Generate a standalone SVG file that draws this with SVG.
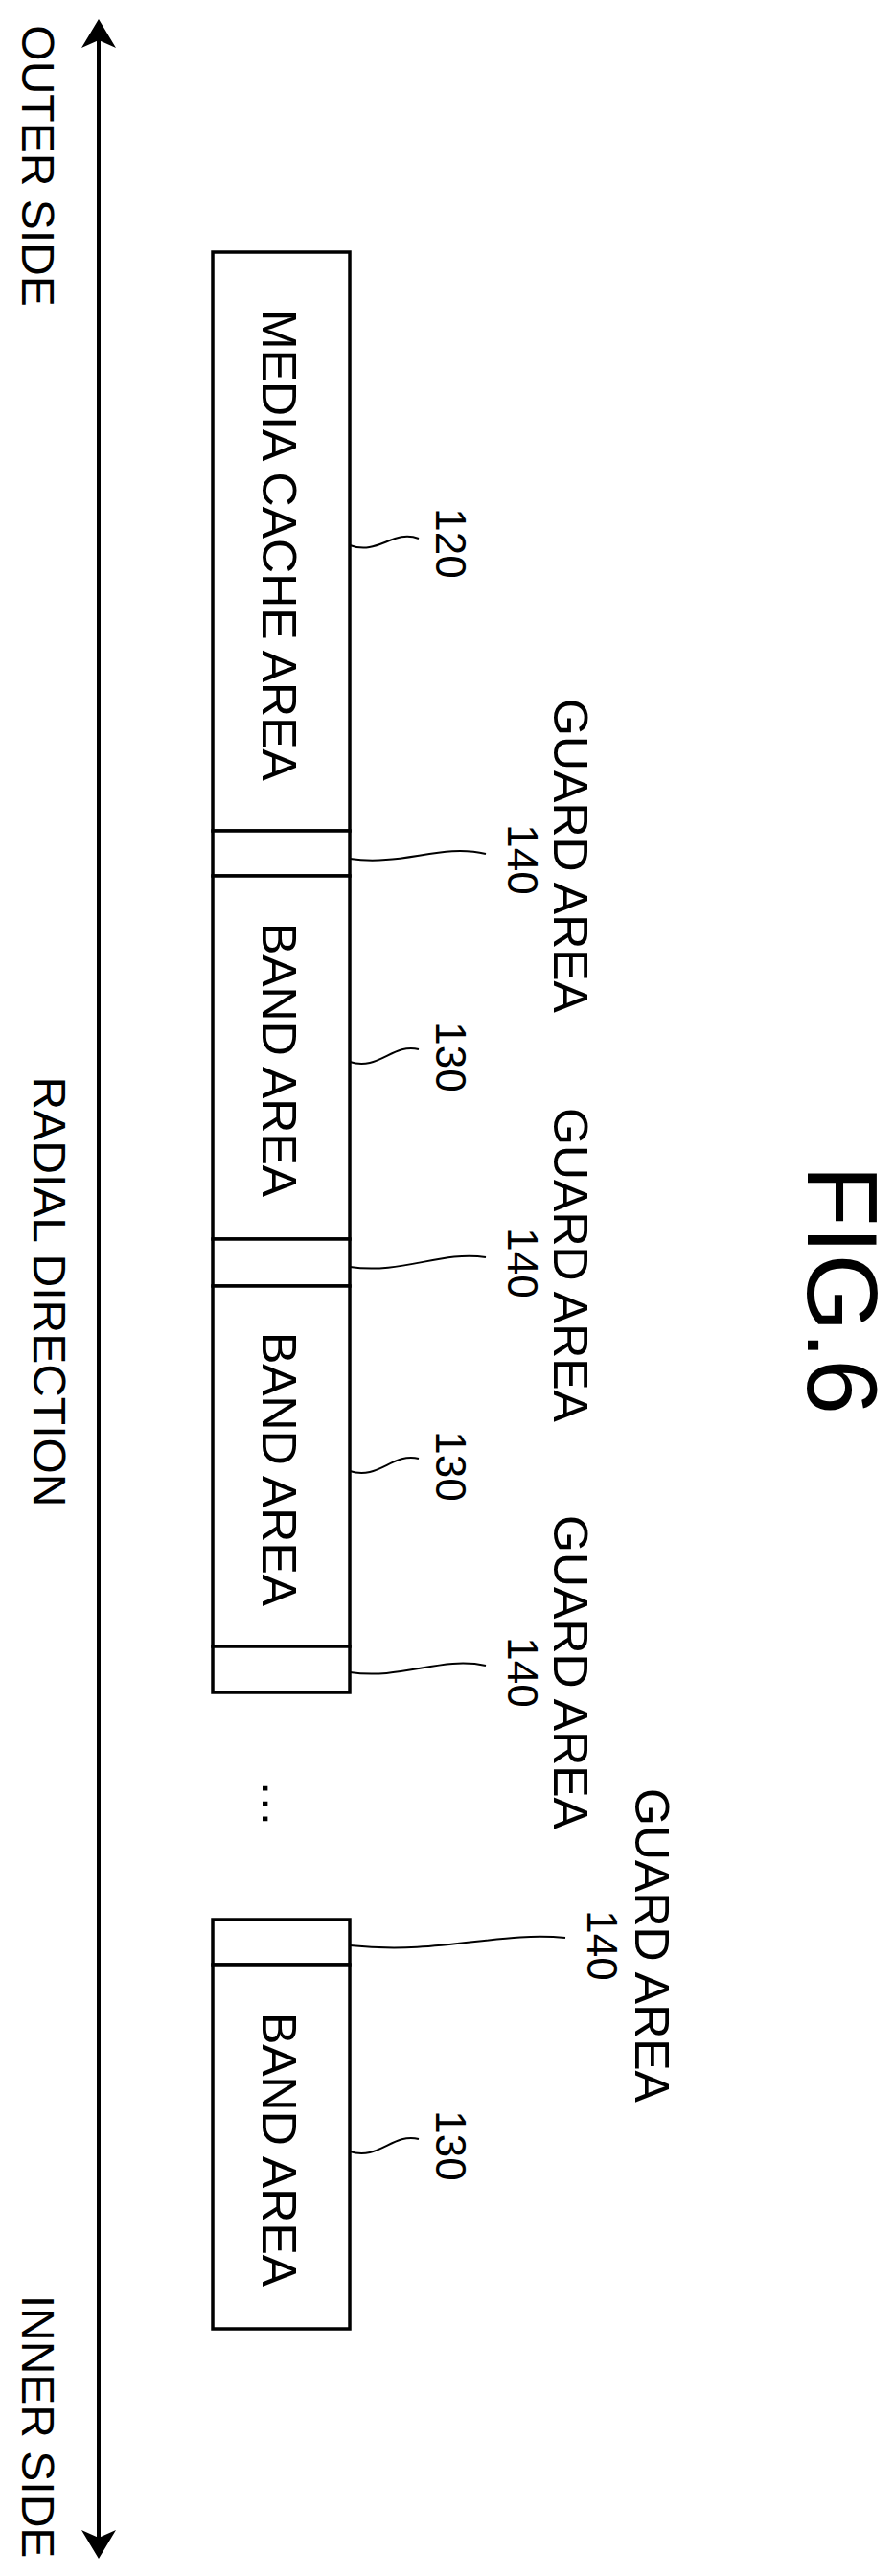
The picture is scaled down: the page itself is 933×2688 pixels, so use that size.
<svg xmlns="http://www.w3.org/2000/svg" width="933" height="2688" viewBox="0 0 933 2688">
<style>
text{font-family:"Liberation Sans",Arial,sans-serif;fill:#000;text-anchor:middle;dominant-baseline:central}
.b{font-size:50px}.n{font-size:44px}.s{font-size:48px}
.box{fill:#fff;stroke:#000;stroke-width:3.5}
.ld{fill:none;stroke:#000;stroke-width:2}
</style>
<defs><marker id="ah" markerWidth="12" markerHeight="12" refX="10" refY="6" orient="auto" markerUnits="userSpaceOnUse"><path d="M0,0 L12,6 L0,12 L3,6 z" fill="#000" transform="scale(1.7) translate(-4,-2.5)"/></marker></defs>
<g id="connectors">
<line x1="103" y1="1340" x2="103" y2="30" stroke="#000" stroke-width="4"/>
<path d="M85,50 L103,20 L121,50 L103,42 z"/>
<line x1="103" y1="1340" x2="103" y2="2660" stroke="#000" stroke-width="4"/>
<path d="M85,2640 L103,2670 L121,2640 L103,2648 z"/>
<path class="ld" d="M365,569 C395,580 410,552 437,562"/>
<path class="ld" d="M365,896 C420,904 460,880 507,891"/>
<path class="ld" d="M365,1108 C395,1118 410,1088 437,1095"/>
<path class="ld" d="M365,1322 C420,1330 460,1305 507,1312"/>
<path class="ld" d="M365,1535 C395,1545 410,1515 437,1522"/>
<path class="ld" d="M365,1745 C420,1753 460,1728 507,1738"/>
<path class="ld" d="M365,2030 C460,2040 520,2015 590,2022"/>
<path class="ld" d="M365,2245 C395,2255 410,2225 437,2232"/>
</g>
<g id="axis-labels">
<text class="s" transform="translate(39,173) rotate(90)">OUTER SIDE</text>
<text class="s" transform="translate(51,1348) rotate(90)">RADIAL DIRECTION</text>
<text class="s" transform="translate(39,2532) rotate(90)">INNER SIDE</text>
<text style="font-size:104px" transform="translate(879,1346) rotate(90)">FIG.6</text>
</g>
<g id="media-cache">
<rect class="box" x="222" y="263" width="143" height="604"/>
<text class="b" transform="translate(291,569) rotate(90)">MEDIA CACHE AREA</text>
<text class="n" transform="translate(470,567) rotate(90)">120</text>
</g>
<g id="guard1">
<rect class="box" x="222" y="867" width="143" height="47"/>
<text class="n" transform="translate(545,897) rotate(90)">140</text>
<text class="b" transform="translate(595,893) rotate(90)">GUARD AREA</text>
</g>
<g id="band1">
<rect class="box" x="222" y="914" width="143" height="379"/>
<text class="b" transform="translate(291,1106) rotate(90)">BAND AREA</text>
<text class="n" transform="translate(470,1103) rotate(90)">130</text>
</g>
<g id="guard2">
<rect class="box" x="222" y="1293" width="143" height="49"/>
<text class="n" transform="translate(545,1318) rotate(90)">140</text>
<text class="b" transform="translate(595,1320) rotate(90)">GUARD AREA</text>
</g>
<g id="band2">
<rect class="box" x="222" y="1342" width="143" height="376"/>
<text class="b" transform="translate(291,1533) rotate(90)">BAND AREA</text>
<text class="n" transform="translate(470,1530) rotate(90)">130</text>
</g>
<g id="guard3">
<rect class="box" x="222" y="1718" width="143" height="48"/>
<text class="n" transform="translate(545,1745) rotate(90)">140</text>
<text class="b" transform="translate(595,1745) rotate(90)">GUARD AREA</text>
</g>
<g id="ellipsis"><text class="b" transform="translate(291,1882) rotate(90)">…</text></g>
<g id="guard4">
<rect class="box" x="222" y="2003" width="143" height="47"/>
<text class="n" transform="translate(628,2030) rotate(90)">140</text>
<text class="b" transform="translate(680,2030) rotate(90)">GUARD AREA</text>
</g>
<g id="band4">
<rect class="box" x="222" y="2050" width="143" height="380"/>
<text class="b" transform="translate(291,2243) rotate(90)">BAND AREA</text>
<text class="n" transform="translate(470,2239) rotate(90)">130</text>
</g>
</svg>
